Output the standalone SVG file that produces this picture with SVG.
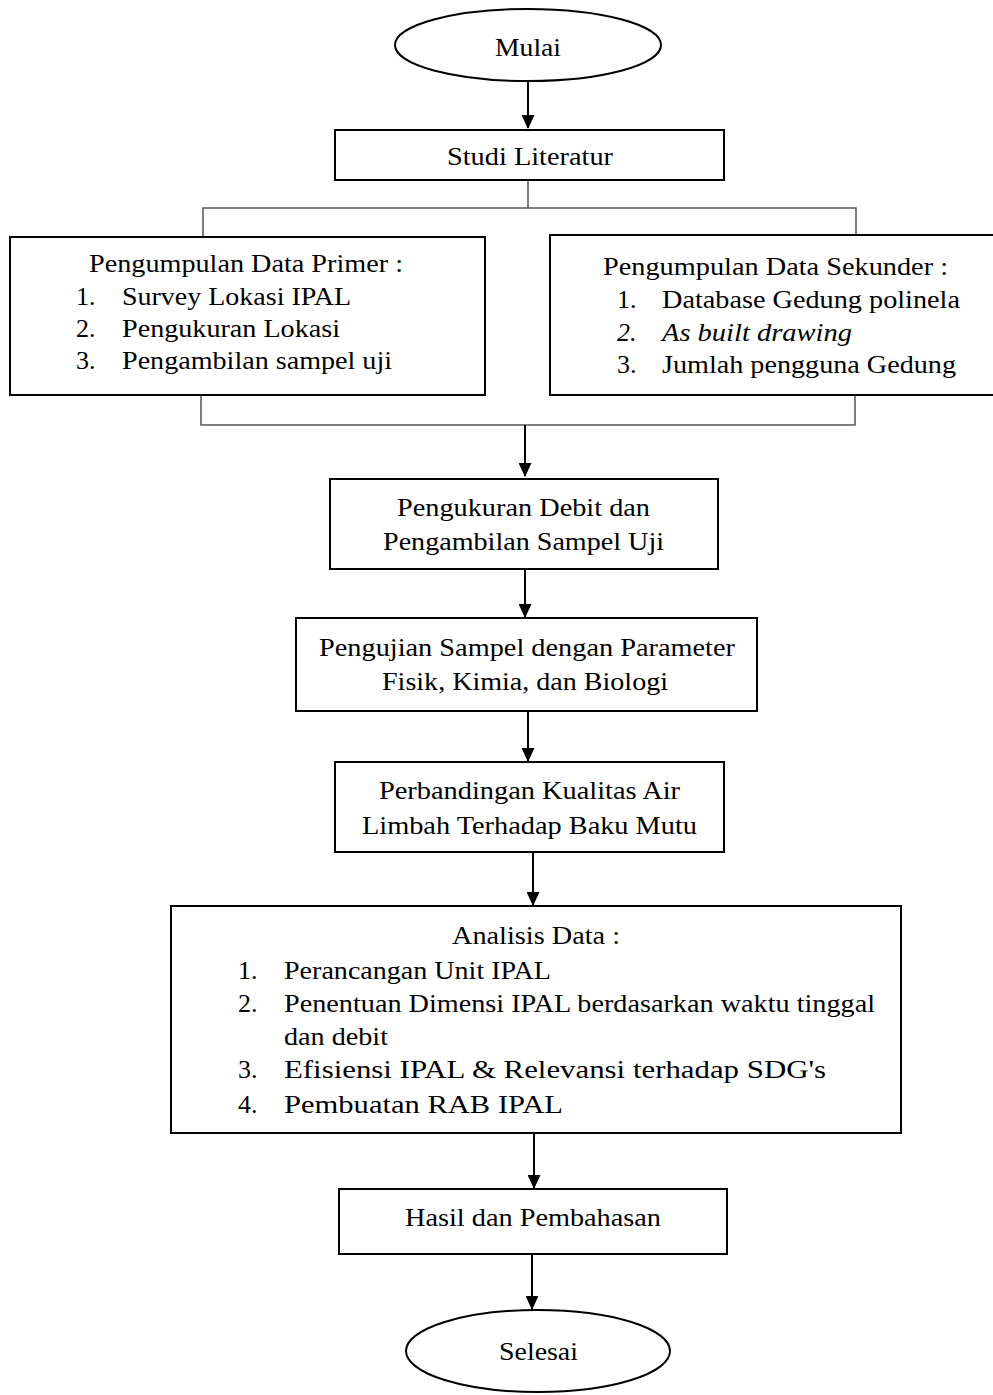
<svg xmlns="http://www.w3.org/2000/svg" width="993" height="1395" viewBox="0 0 993 1395" font-family="Liberation Serif, DejaVu Serif, serif">
<style>
.n{fill:#fff;stroke:#000;stroke-width:2}
.c{fill:none;stroke:#000;stroke-width:2}
.cl{fill:none;stroke:#555;stroke-width:1.5}
text{font-family:'Liberation Serif','DejaVu Serif',serif;font-size:26px;fill:#000}
.i{font-style:italic}
</style>
<defs>
<marker id="ah" viewBox="0 0 14 13" refX="13" refY="6.5" markerWidth="14" markerHeight="13" markerUnits="userSpaceOnUse" orient="auto"><path d="M0,0L14,6.5L0,13z" fill="#000"/></marker>
</defs>
<rect width="993" height="1395" fill="#fff"/>
<g id="connectors">
<line class="c" x1="528" y1="82" x2="528" y2="128" marker-end="url(#ah)"/>
<polyline class="cl" points="528,180 528,208"/>
<polyline class="cl" points="203,237 203,208 856,208 856,235"/>
<polyline class="cl" points="201,395 201,425 855,425 855,395"/>
<line class="c" x1="525" y1="425" x2="525" y2="476" marker-end="url(#ah)"/>
<line class="c" x1="525" y1="569" x2="525" y2="617" marker-end="url(#ah)"/>
<line class="c" x1="528" y1="711" x2="528" y2="761" marker-end="url(#ah)"/>
<line class="c" x1="533" y1="852" x2="533" y2="905" marker-end="url(#ah)"/>
<line class="c" x1="534" y1="1133" x2="534" y2="1188" marker-end="url(#ah)"/>
<line class="c" x1="532" y1="1254" x2="532" y2="1309" marker-end="url(#ah)"/>
</g>
<g id="mulai">
<ellipse class="n" cx="528" cy="45" rx="133" ry="36"/>
<text x="495" y="56" textLength="66" lengthAdjust="spacingAndGlyphs">Mulai</text>
</g>
<g id="studi">
<rect class="n" x="335" y="130" width="389" height="50"/>
<text x="447" y="165" textLength="166" lengthAdjust="spacingAndGlyphs">Studi Literatur</text>
</g>
<g id="primer">
<rect class="n" x="10" y="237" width="475" height="158"/>
<text x="89" y="272" textLength="314" lengthAdjust="spacingAndGlyphs">Pengumpulan Data Primer :</text>
<text x="76" y="305">1.</text><text x="122" y="305" textLength="229" lengthAdjust="spacingAndGlyphs">Survey Lokasi IPAL</text>
<text x="76" y="337">2.</text><text x="122" y="337" textLength="218" lengthAdjust="spacingAndGlyphs">Pengukuran Lokasi</text>
<text x="76" y="369">3.</text><text x="122" y="369" textLength="270" lengthAdjust="spacingAndGlyphs">Pengambilan sampel uji</text>
</g>
<g id="sekunder">
<rect class="n" x="550" y="235" width="450" height="160"/>
<text x="603" y="275" textLength="345" lengthAdjust="spacingAndGlyphs">Pengumpulan Data Sekunder :</text>
<text x="617" y="308">1.</text><text x="662" y="308" textLength="298" lengthAdjust="spacingAndGlyphs">Database Gedung polinela</text>
<text class="i" x="617" y="341">2.</text><text class="i" x="662" y="341" textLength="190" lengthAdjust="spacingAndGlyphs">As built drawing</text>
<text x="617" y="373">3.</text><text x="662" y="373" textLength="294" lengthAdjust="spacingAndGlyphs">Jumlah pengguna Gedung</text>
</g>
<g id="pengukuran">
<rect class="n" x="330" y="479" width="388" height="90"/>
<text x="397" y="516" textLength="253" lengthAdjust="spacingAndGlyphs">Pengukuran Debit dan</text>
<text x="383" y="550" textLength="281" lengthAdjust="spacingAndGlyphs">Pengambilan Sampel Uji</text>
</g>
<g id="pengujian">
<rect class="n" x="296" y="618" width="461" height="93"/>
<text x="319" y="656" textLength="416" lengthAdjust="spacingAndGlyphs">Pengujian Sampel dengan Parameter</text>
<text x="382" y="690" textLength="286" lengthAdjust="spacingAndGlyphs">Fisik, Kimia, dan Biologi</text>
</g>
<g id="perbandingan">
<rect class="n" x="335" y="762" width="389" height="90"/>
<text x="379" y="799" textLength="301" lengthAdjust="spacingAndGlyphs">Perbandingan Kualitas Air</text>
<text x="362" y="834" textLength="335" lengthAdjust="spacingAndGlyphs">Limbah Terhadap Baku Mutu</text>
</g>
<g id="analisis">
<rect class="n" x="171" y="906" width="730" height="227"/>
<text x="452" y="944" textLength="168" lengthAdjust="spacingAndGlyphs">Analisis Data :</text>
<text x="238" y="979">1.</text><text x="284" y="979" textLength="267" lengthAdjust="spacingAndGlyphs">Perancangan Unit IPAL</text>
<text x="238" y="1012">2.</text><text x="284" y="1012" textLength="591" lengthAdjust="spacingAndGlyphs">Penentuan Dimensi IPAL berdasarkan waktu tinggal</text>
<text x="284" y="1045" textLength="104" lengthAdjust="spacingAndGlyphs">dan debit</text>
<text x="238" y="1078">3.</text><text x="284" y="1078" textLength="542" lengthAdjust="spacingAndGlyphs">Efisiensi IPAL &amp; Relevansi terhadap SDG's</text>
<text x="238" y="1113">4.</text><text x="284" y="1113" textLength="279" lengthAdjust="spacingAndGlyphs">Pembuatan RAB IPAL</text>
</g>
<g id="hasil">
<rect class="n" x="339" y="1189" width="388" height="65"/>
<text x="405" y="1226" textLength="256" lengthAdjust="spacingAndGlyphs">Hasil dan Pembahasan</text>
</g>
<g id="selesai">
<ellipse class="n" cx="538" cy="1351" rx="132" ry="41"/>
<text x="499" y="1360" textLength="79" lengthAdjust="spacingAndGlyphs">Selesai</text>
</g>
</svg>
